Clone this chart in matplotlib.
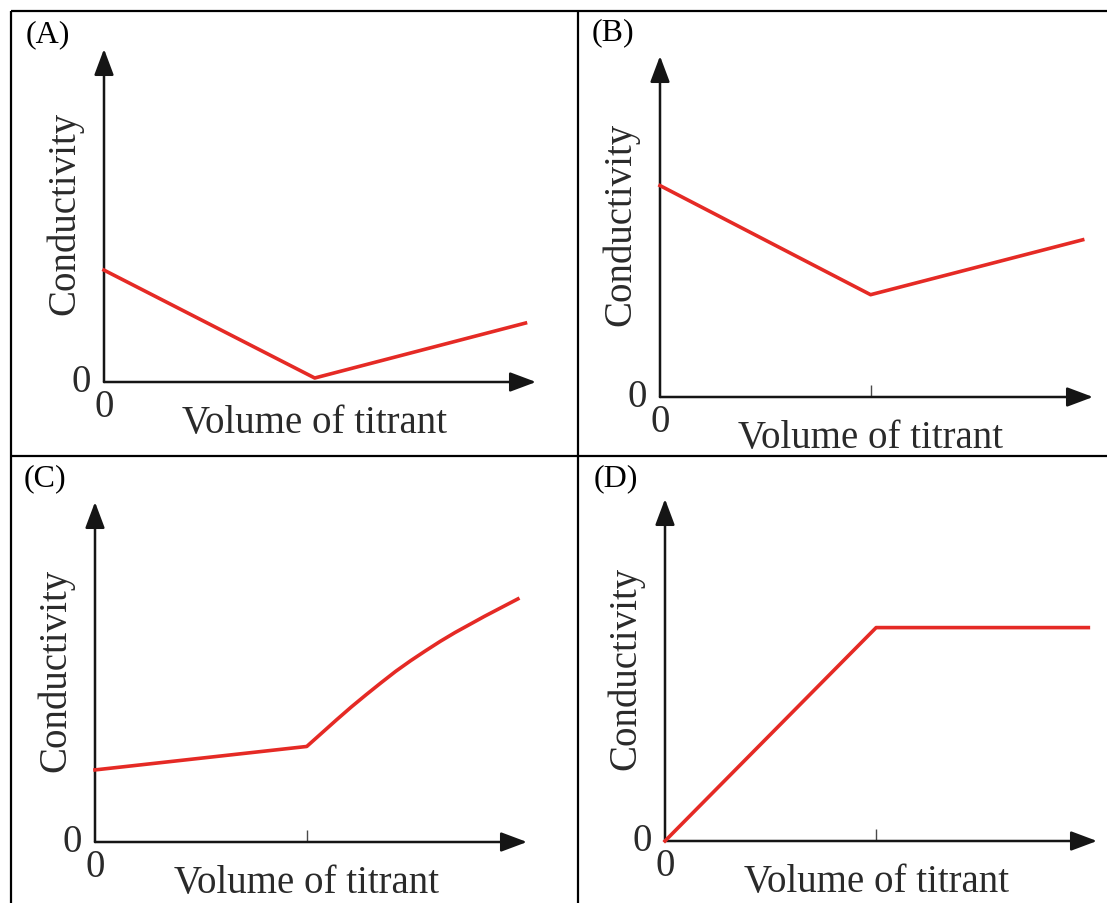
import matplotlib
matplotlib.use("Agg")
import matplotlib.pyplot as plt
from matplotlib import transforms
from matplotlib.transforms import offset_copy
from matplotlib.lines import Line2D

# ---------------- data ----------------
panel_labels = ["(A)", "(B)", "(C)", "(D)"]
x_label = "Volume of titrant"
y_label = "Conductivity"
zero_label = "0"

# x in units of the equivalence volume, y as fraction of the axis height
a_x = [0, 1, 2.0]
a_y = [0.336, 0.012, 0.177]

b_x = [0, 1, 2.007]
b_y = [0.62, 0.30, 0.461]

c_x = [0, 1.0, 1.07, 1.14, 1.21, 1.28, 1.35, 1.42, 1.49, 1.56, 1.63,
       1.70, 1.77, 1.84, 1.92, 1.997]
c_y = [0.212, 0.281, 0.320, 0.359, 0.397, 0.433, 0.468, 0.502, 0.533, 0.562,
       0.590, 0.616, 0.640, 0.664, 0.690, 0.715]

d_x = [0, 1, 2.005]
d_y = [0, 0.624, 0.624]

series_x = [a_x, b_x, c_x, d_x]
series_y = [a_y, b_y, c_y, d_y]
equiv_tick = [False, True, True, True]

# ---------------- layout (pixels) ----------------
W, H = 1107, 904
# origin x, origin y, x-arrow tip, y-arrow tip, xmax (data)
layout = [
    (104, 383, 536, 50, 2.05),
    (660, 398, 1093, 57, 2.056),
    (95, 843, 527, 503, 2.04),
    (665, 842, 1097, 500, 2.046),
]
label_pos = [(26, 35), (592, 33), (24, 479), (594, 479)]

RED = "#e52a25"
AXC = "#4a4a4a"
TXT = "#2a2a2a"
FONT = "Liberation Serif"
FS = 28

fig = plt.figure(figsize=(W / 100, H / 100), dpi=100)

# grid borders
border_kw = dict(color="black", lw=1.6, transform=fig.transFigure, solid_capstyle="butt")
fig.add_artist(Line2D([11 / W, 1], [1 - 12 / H, 1 - 12 / H], **border_kw))
fig.add_artist(Line2D([11 / W, 1], [1 - 457 / H, 1 - 457 / H], **border_kw))
fig.add_artist(Line2D([11 / W, 11 / W], [0, 1 - 12 / H], **border_kw))
fig.add_artist(Line2D([578 / W, 578 / W], [0, 1 - 12 / H], **border_kw))

for i in range(4):
    ox, oy, xt, yt, xmax = layout[i]
    ax = fig.add_axes([ox / W, 1 - oy / H, (xt - ox) / W, (oy - yt) / H])
    ax.set_xlim(0, xmax)
    ax.set_ylim(0, 1)
    ax.patch.set_visible(False)
    for s in ax.spines.values():
        s.set_visible(False)
    ax.set_yticks([])
    if equiv_tick[i]:
        ax.set_xticks([1])
        ax.tick_params(axis="x", direction="in", length=8.5, width=1.0,
                       color=AXC, labelbottom=False)
    else:
        ax.set_xticks([])

    # axis arrows
    arrow_kw = dict(arrowstyle="-|>,head_length=1.6,head_width=0.6",
                    mutation_scale=10, shrinkA=0, shrinkB=0, lw=1.8,
                    color=AXC, fc="#151515", ec="#151515")
    ax.annotate("", xy=(1, 0), xytext=(0, 0), xycoords="axes fraction",
                textcoords="axes fraction", arrowprops=arrow_kw)
    ax.annotate("", xy=(0, 1), xytext=(0, 0), xycoords="axes fraction",
                textcoords="axes fraction", arrowprops=arrow_kw)

    # curve
    ax.plot(series_x[i], series_y[i], color=RED, lw=2.6, clip_on=False,
            solid_joinstyle="round", zorder=5)

    # texts
    ax.text(0, 0, zero_label, transform=offset_copy(ax.transAxes, fig, x=-23, y=0, units="dots"),
            ha="center", va="center", fontsize=FS, family=FONT, color=TXT)
    ax.text(0, 0, zero_label, transform=offset_copy(ax.transAxes, fig, x=0, y=-25, units="dots"),
            ha="center", va="center", fontsize=FS, family=FONT, color=TXT)
    blend = transforms.blended_transform_factory(ax.transData, ax.transAxes)
    ax.text(1, 0, x_label, transform=offset_copy(blend, fig, x=0, y=-50, units="dots"),
            ha="center", va="baseline", fontsize=FS, family=FONT, color=TXT)
    ax.text(0, 0.5, y_label, transform=offset_copy(ax.transAxes, fig, x=-39, y=3, units="dots"),
            ha="center", va="center", rotation=90, fontsize=FS, family=FONT, color=TXT)

    lx, ly = label_pos[i]
    fig.text(lx / W, 1 - ly / H, panel_labels[i], ha="left", va="center",
             fontsize=23, family=FONT, color="black")

fig.savefig("out.png", dpi=100)
